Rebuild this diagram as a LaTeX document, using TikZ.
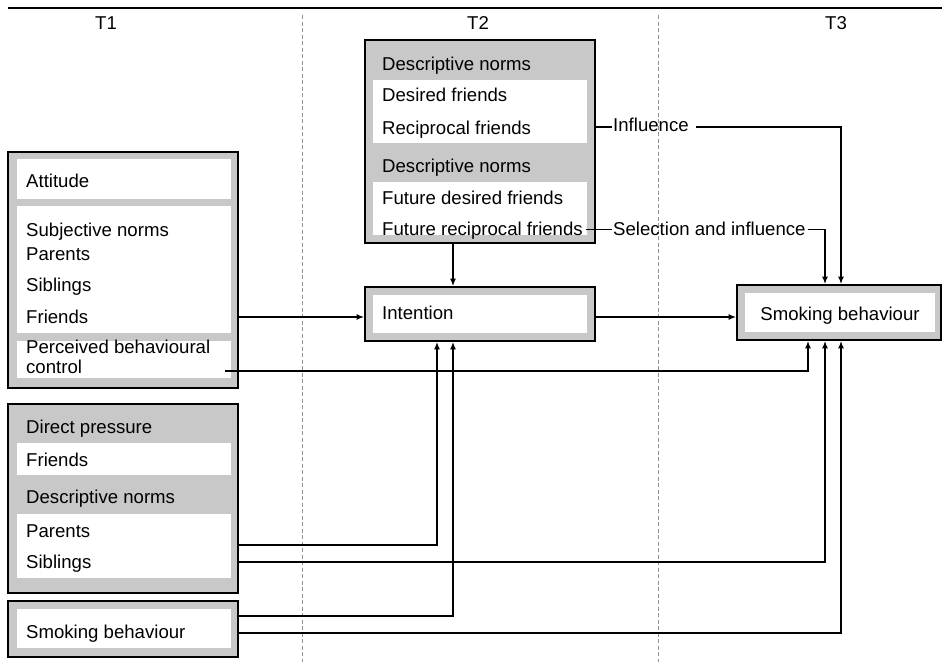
\documentclass[tikz,border=0pt]{standalone}
\usepackage{fontspec}
\setmainfont{Liberation Sans}
\usetikzlibrary{arrows.meta,fit}
\definecolor{boxgray}{RGB}{200,200,200}
\newcommand\fs{\fontsize{18.6}{21}\selectfont}
\begin{document}
\begin{tikzpicture}[x=1pt,y=-1pt,
  grp/.style={draw=black, fill=boxgray, line width=1.7pt, inner sep=0pt, rectangle},
  wbox/.style={fill=white, draw=none, inner sep=0pt, rectangle},
  lbl/.style={anchor=base west, inner sep=0pt, font=\fs},
  tlbl/.style={anchor=base, inner sep=0pt, font=\fs},
  conn/.style={line width=1.5pt},
  arr/.style={conn, -{Latex[length=7.5pt,width=6pt]}},
  divider/.style={gray!85, line width=0.8pt, dash pattern=on 4pt off 2.5pt}]
\useasboundingbox (0,0) rectangle (942,662);

% header
\coordinate (hl) at (8,8);
\coordinate (hr) at (942,8);
\draw[line width=2.2pt] (hl) -- (hr);
\node[tlbl] (t1) at (106,29) {T1};
\node[tlbl] (t2) at (478,29) {T2};
\node[tlbl] (t3) at (836,29) {T3};
\coordinate (d1t) at (302,15);
\coordinate (d1b) at (302,662);
\coordinate (d2t) at (658,15);
\coordinate (d2b) at (658,662);
\draw[divider] (d1t) -- (d1b);
\draw[divider] (d2t) -- (d2b);

% T1 group A
\node[grp, fit={(8,152) (238,388)}] (grpA) {};
\node[wbox, fit={(17,159) (231,199)}] (wA1) {};
\node[wbox, fit={(17,206) (231,333)}] (wA2) {};
\node[wbox, fit={(17,341) (231,378)}] (wA3) {};
\node[lbl] (att) at (26,187) {Attitude};
\node[lbl] (subj) at (26,236) {Subjective norms};
\node[lbl] (par1) at (26,260) {Parents};
\node[lbl] (sib1) at (26,291) {Siblings};
\node[lbl] (fri1) at (26,323) {Friends};
\node[lbl] (pbc1) at (26,353) {Perceived behavioural};
\node[lbl] (pbc2) at (26,373) {control};

% T1 group B
\node[grp, fit={(8,404) (238,593)}] (grpB) {};
\node[wbox, fit={(17,443) (231,475)}] (wB1) {};
\node[wbox, fit={(17,514) (231,578)}] (wB2) {};
\node[lbl] (dp) at (26,433) {Direct pressure};
\node[lbl] (fri2) at (26,466) {Friends};
\node[lbl] (dn0) at (26,503) {Descriptive norms};
\node[lbl] (par2) at (26,537) {Parents};
\node[lbl] (sib2) at (26,568) {Siblings};

% T1 group C
\node[grp, fit={(8,601) (238,657)}] (grpC) {};
\node[wbox, fit={(17,609) (231,648)}] (wC1) {};
\node[lbl] (smk1) at (26,638) {Smoking behaviour};

% T2 group
\node[grp, fit={(365,40) (595,243)}] (grpT2) {};
\node[wbox, fit={(373,80) (587,143)}] (wT1) {};
\node[wbox, fit={(373,182) (587,235)}] (wT2) {};
\node[lbl] (dn1) at (382,70) {Descriptive norms};
\node[lbl] (desf) at (382,101.7) {Desired friends};
\node[lbl] (recf) at (382,134) {Reciprocal friends};
\node[lbl] (dn2) at (382,172.7) {Descriptive norms};
\node[lbl] (fdes) at (382,204) {Future desired friends};
\node[lbl] (frec) at (382,235.7) {Future reciprocal friends};

% Intention
\node[grp, fit={(365,287) (595,341)}] (intent) {};
\node[wbox, fit={(373,295) (587,333)}] (wI) {};
\node[lbl] (intl) at (382,319) {Intention};

% Smoking behaviour T3
\node[grp, fit={(737,285) (941,340)}] (smok) {};
\node[wbox, fit={(745,293) (935,332)}] (wS) {};
\node[tlbl] (smkl) at (840,320) {Smoking behaviour};

% edge labels
\node[lbl] (infl) at (613,131.7) {Influence};
\node[lbl] (selinf) at (613,235) {Selection and influence};

% row / column helpers
\coordinate (rFri) at (0,317);
\coordinate (rPbc) at (0,371);
\coordinate (pbcS) at (225,371);
\coordinate (rPar) at (0,545);
\coordinate (rSib) at (0,562);
\coordinate (rSm1) at (0,616);
\coordinate (rSm2) at (0,633);
\coordinate (rInf) at (0,127);
\coordinate (rSel) at (0,229.5);
\coordinate (selS) at (586,229.5);
\coordinate (cA) at (437,0);
\coordinate (cB) at (453,0);
\coordinate (cC) at (808,0);
\coordinate (cD) at (825,0);
\coordinate (cE) at (841,0);

% connectors
\draw[arr] (grpA.east |- rFri) -- (intent.west |- rFri);
\draw[arr] (pbcS) -| (cC |- smok.south);
\draw[arr] (grpB.east |- rPar) -| (cA |- intent.south);
\draw[arr] (grpB.east |- rSib) -| (cD |- smok.south);
\draw[arr] (grpC.east |- rSm1) -| (cB |- intent.south);
\draw[arr] (grpC.east |- rSm2) -| (cE |- smok.south);
\draw[arr] (cB |- grpT2.south) -- (cB |- intent.north);
\draw[arr] (intent.east |- rFri) -- (smok.west |- rFri);
\draw[conn] (grpT2.east |- rInf) -- ([xshift=-1pt]infl.west |- rInf);
\draw[arr] ([xshift=7pt]infl.east |- rInf) -| (cE |- smok.north);
\draw[conn] (selS) -- ([xshift=-1pt]selinf.west |- rSel);
\draw[arr] ([xshift=2pt]selinf.east |- rSel) -| (cD |- smok.north);
\end{tikzpicture}
\end{document}
